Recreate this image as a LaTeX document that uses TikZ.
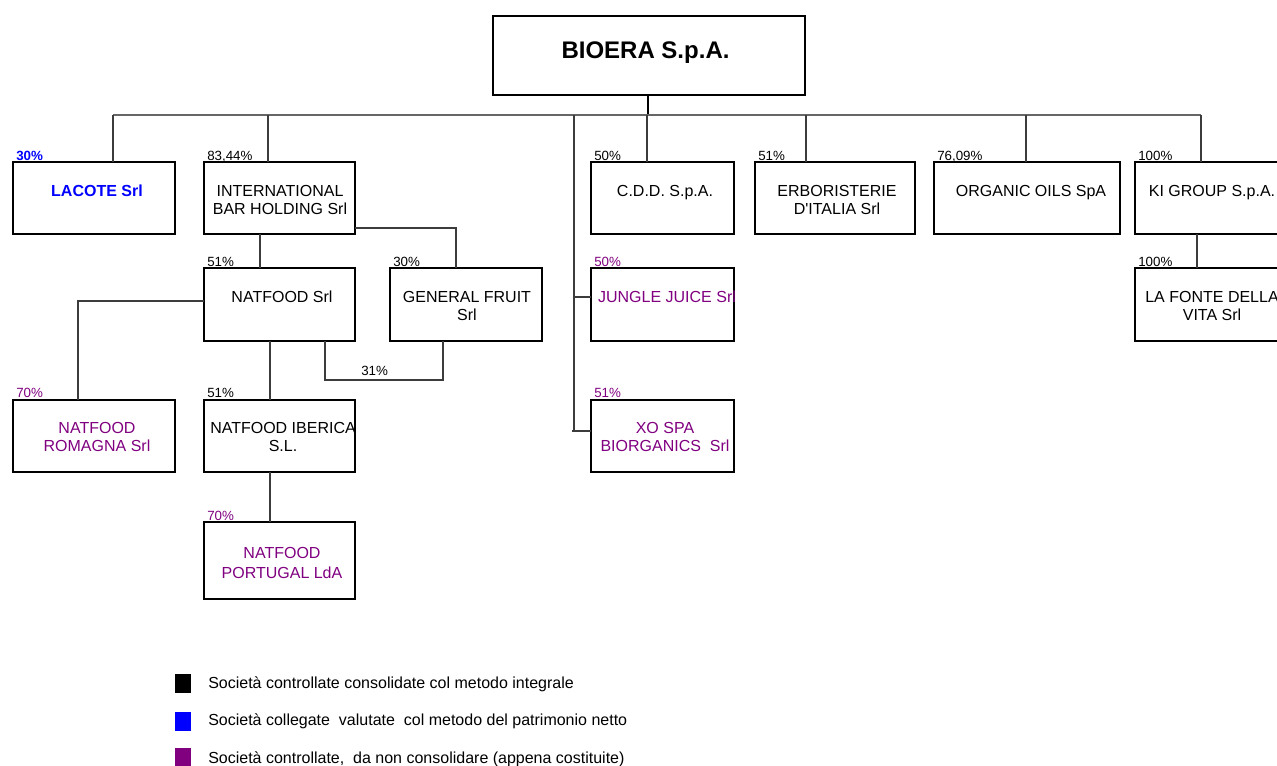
\documentclass[tikz,border=0pt]{standalone}
\usepackage{fontspec}
\setmainfont{Liberation Sans}
\definecolor{ppl}{RGB}{128,0,128}
\definecolor{blu}{RGB}{0,0,255}
\definecolor{lin}{RGB}{60,60,60}
\begin{document}
\begin{tikzpicture}[x=0.75pt,y=-0.75pt,
  box/.style args={#1/#2}{draw, line width=2.2pt, anchor=north west, inner sep=0pt, outer sep=0pt, minimum width=#1*0.75pt, minimum height=#2*0.75pt},
  txt/.style={font=\fontsize{12}{13.9}\selectfont, align=center, anchor=north, inner sep=0pt},
  pct/.style={font=\fontsize{10}{12}\selectfont, anchor=base west, inner sep=0pt},
  con/.style={draw=lin, line width=0.8pt},
  leg/.style={font=\fontsize{12}{14}\selectfont, anchor=base west, inner sep=0pt},
  sq/.style={anchor=north west, inner sep=0pt, outer sep=0pt, minimum width=12pt, minimum height=14.25pt}]
\useasboundingbox (0,0) rectangle (1277,765);
\clip (0,0) rectangle (1277,765);

% top
\node[box=312/79] (bioera) at (493,16) {};
\node[font=\fontsize{18}{20}\selectfont\bfseries, anchor=base, inner sep=0pt] (bioera-t) at (645.5,58) {BIOERA S.p.A.};

% first row boxes
\node[box=162/72] (lacote) at (13,162) {};
\node[box=151/72] (ibh) at (204,162) {};
\node[box=143/72] (cdd) at (591,162) {};
\node[box=160/72] (erb) at (755,162) {};
\node[box=186/72] (org) at (934,162) {};
\node[box=154/72] (ki) at (1135,162) {};

\node[txt, font=\fontsize{12}{13.9}\selectfont\bfseries, text=blu] (lacote-t) at (97,185) {LACOTE Srl};
\node[txt] (ibh-t) at (280,185) {INTERNATIONAL\\BAR HOLDING Srl};
\node[txt] (cdd-t) at (665,185) {C.D.D. S.p.A.};
\node[txt] (erb-t) at (837,185) {ERBORISTERIE\\D\textquotesingle ITALIA Srl};
\node[txt] (org-t) at (1031,185) {ORGANIC OILS SpA};
\node[txt] (ki-t) at (1212,185) {KI GROUP S.p.A.};

\node[pct, text=blu, font=\fontsize{10}{12}\selectfont\bfseries] (lacote-p) at (16,160) {30\%};
\node[pct] (ibh-p) at (207,160) {83,44\%};
\node[pct] (cdd-p) at (594,160) {50\%};
\node[pct] (erb-p) at (758,160) {51\%};
\node[pct] (org-p) at (937,160) {76,09\%};
\node[pct] (ki-p) at (1138,160) {100\%};

% second row
\node[box=151/73] (natfood) at (204,268) {};
\node[box=152/73] (gf) at (390,268) {};
\node[box=143/73] (jungle) at (591,268) {};
\node[box=154/73] (fonte) at (1135,268) {};

\node[txt] (natfood-t) at (282,291) {NATFOOD Srl};
\node[txt] (gf-t) at (467,291) {GENERAL FRUIT\\Srl};
\node[txt, text=ppl] (jungle-t) at (667,291) {JUNGLE JUICE Srl};
\node[txt] (fonte-t) at (1212,291) {LA FONTE DELLA\\VITA Srl};

\node[pct] (natfood-p) at (207,266) {51\%};
\node[pct] (gf-p) at (393,266) {30\%};
\node[pct, text=ppl] (jungle-p) at (594,266) {50\%};
\node[pct] (fonte-p) at (1138,266) {100\%};

% third row
\node[box=162/72] (romagna) at (13,400) {};
\node[box=151/72] (iberica) at (204,400) {};
\node[box=143/72] (xo) at (591,400) {};

\node[txt, text=ppl] (romagna-t) at (97,422) {NATFOOD\\ROMAGNA Srl};
\node[txt] (iberica-t) at (283,422) {NATFOOD IBERICA\\S.L.};
\node[txt, text=ppl] (xo-t) at (665,422) {XO SPA\\BIORGANICS\ \ Srl};

\node[pct, text=ppl] (romagna-p) at (16,397) {70\%};
\node[pct] (iberica-p) at (207,397) {51\%};
\node[pct, text=ppl] (xo-p) at (594,397) {51\%};

% fourth row
\node[box=151/77] (portugal) at (204,522) {};
\node[txt, text=ppl, font=\fontsize{12}{15.3}\selectfont] (portugal-t) at (282,547) {NATFOOD\\PORTUGAL LdA};
\node[pct, text=ppl] (portugal-p) at (207,520) {70\%};

% connectors
\coordinate (bt) at (648,115);
\draw[line width=2.2pt] (bioera.south -| bt) -- (bt);
\coordinate (busL) at (113,115);
\coordinate (busR) at (1201,115);
\draw[con, line width=1.1pt, draw=gray!80!black] (busL) -- (busR);

\coordinate (d1) at (113,115);
\coordinate (d2) at (268,115);
\coordinate (d3) at (574,115);
\coordinate (d4) at (647,115);
\coordinate (d5) at (806,115);
\coordinate (d6) at (1026,115);
\coordinate (d7) at (1201,115);
\draw[con] (d1) -- (d1 |- lacote.north);
\draw[con] (d2) -- (d2 |- ibh.north);
\draw[con] (d4) -- (d4 |- cdd.north);
\draw[con] (d5) -- (d5 |- erb.north);
\draw[con] (d6) -- (d6 |- org.north);
\draw[con] (d7) -- (d7 |- ki.north);

\coordinate (jj) at (574,297);
\coordinate (xj) at (574,431);
\coordinate (xs) at (572,431);
\draw[con] (d3) -- (xj);
\draw[con] (jj) -- (jj -| jungle.west);
\draw[con] (xs) -- (xs -| xo.west);

\coordinate (kf) at (1197,250);
\draw[con] (kf |- ki.south) -- (kf |- fonte.north);

\coordinate (in) at (260,250);
\draw[con] (in |- ibh.south) -- (in |- natfood.north);

\coordinate (ig) at (456,228);
\draw[con] (ig -| ibh.east) -- (ig) -- (ig |- gf.north);

\coordinate (nr) at (78,301);
\draw[con] (nr -| natfood.west) -- (nr) -- (nr |- romagna.north);

\coordinate (ni) at (270,380);
\draw[con] (ni |- natfood.south) -- (ni |- iberica.north);

\coordinate (c1) at (325,380);
\coordinate (c2) at (443,380);
\draw[con] (c1 |- natfood.south) -- (c1) -- (c2) -- (c2 |- gf.south);
\node[pct] (p31) at (361,375) {31\%};

\coordinate (ip) at (270,500);
\draw[con] (ip |- iberica.south) -- (ip |- portugal.north);

% legend
\node[sq, fill=black] (sq1) at (175,674) {};
\node[sq, fill=blu] (sq2) at (175,712) {};
\node[sq, fill=ppl] (sq3) at (175,748) {};
\node[leg] (leg1) at (208,688.5) {Società controllate consolidate col metodo integrale};
\node[leg] (leg2) at (208,725.5) {Società collegate\ \ valutate\ \ col metodo del patrimonio netto};
\node[leg] (leg3) at (208,763.5) {Società controllate,\ \ da non consolidare (appena costituite)};
\end{tikzpicture}
\end{document}
